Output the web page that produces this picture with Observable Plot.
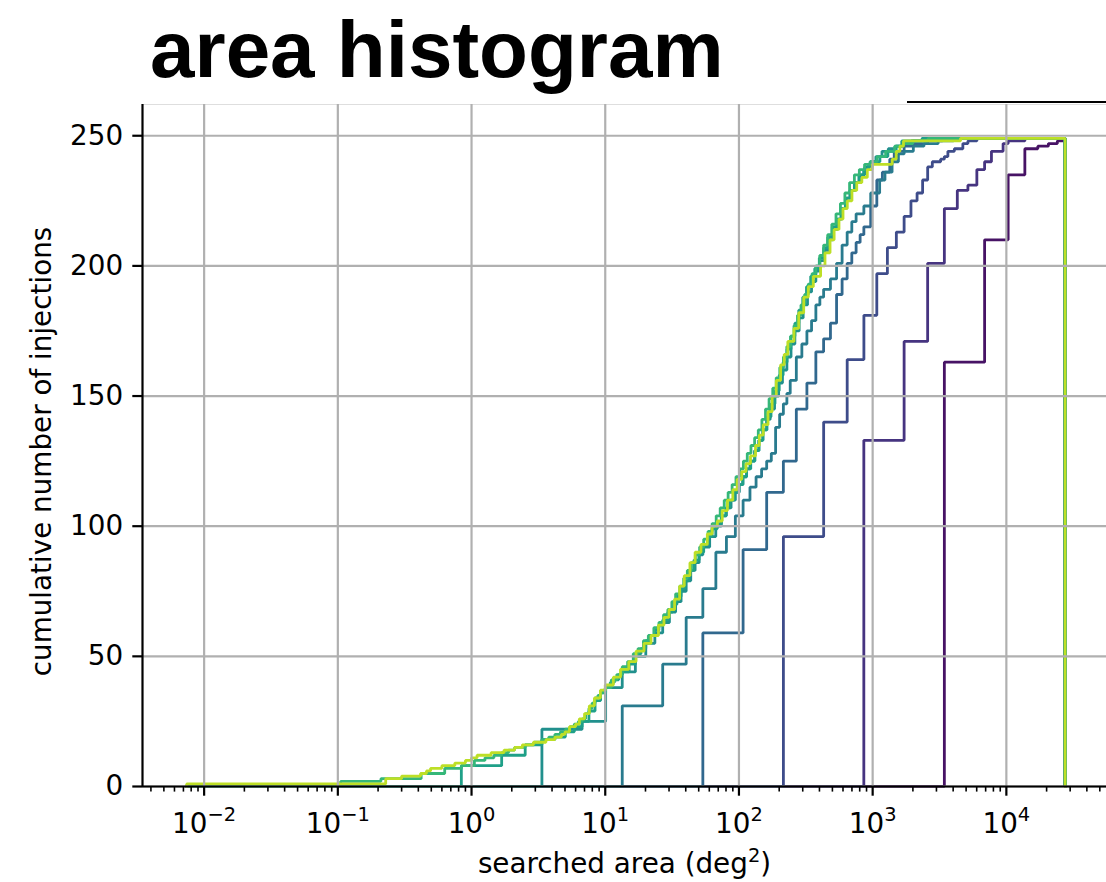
<!DOCTYPE html>
<html>
<head>
<meta charset="utf-8">
<script src="https://cdn.jsdelivr.net/npm/d3@7"></script>
<script src="https://cdn.jsdelivr.net/npm/@observablehq/plot@0.6"></script>
<style>
  body { margin: 0; background: #fff; }
  #fig { position: relative; width: 1106px; height: 882px; overflow: hidden; background: #fff; }
  #title { position: absolute; left: 150px; top: 10px; font: bold 80px "Liberation Sans", Arial, sans-serif; line-height: 1; color: #000; white-space: nowrap; }
  #chart { position: absolute; left: 0; top: 100px; }
  #legend-edge { position: absolute; left: 907px; top: 101px; width: 199px; height: 2px; background: #000; }
</style>
</head>
<body>
<div id="fig">
  <div id="title">area histogram</div>
  <div id="chart"></div>
  <div id="legend-edge"></div>
</div>
<script>
// Cumulative searched-area counts: [area (deg²), cumulative number of injections]
// one list per HEALPix resolution, plus the multi-order result.
const nside1 = [[3438,163],[6876,210],[10313,235],[13751,245],[17189,246],[20627,247],[24064,248],[27502,249]];
const nside2 = [[859,133],[1719,171],[2578,201],[3438,222],[4297,229],[5157,231],[6016,237],[6875,240],[7735,244],[9453,247],[10313,248],[13751,249]];
const nside4 = [[215,96],[430,140],[645,164],[860,181],[1074,197],[1289,207],[1504,213],[1719,219],[1934,225],[2149,228],[2364,233],[2579,238],[2794,240],[3224,241],[3438,242],[3653,244],[4083,245],[4728,247],[5158,248],[6017,249]];
const nside8 = [[53.7,59],[107.4,91],[161.2,113],[214.9,125],[268.6,145],[322.3,155],[376.0,167],[429.7,172],[483.5,178],[537.2,189],[590.9,195],[644.6,201],[698.4,205],[752.1,209],[805.8,212],[859.4,215],[966.9,223],[1074.4,233],[1181.8,236],[1342.9,241],[1450.4,244],[1719,246],[2041,247],[2579,248],[3330,249]];
const nside16 = [[13.4,31],[26.9,47],[40.3,65],[53.7,76],[67.2,90],[80.6,96],[94.0,104],[107.4,110],[120.9,115],[134.3,119],[147.7,122],[161.2,125],[174.6,128],[188.0,138],[201.5,143],[214.9,147],[228.3,151],[241.8,156],[268.6,165],[295.5,170],[322.3,175],[349.2,179],[376.1,185],[402.9,188],[429.8,191],[483.5,195],[537.2,201],[590.9,208],[644.7,213],[698.4,217],[752.1,220],[859.5,223],[967.0,228],[1128,233],[1236,236],[1397,240],[1558,243],[1719,244],[2015,246],[2418,247],[3089,248],[4029,249]];
const nside32 = [[3.36,22],[6.71,25],[10.07,38],[13.4,44],[16.8,50],[20.1,55],[23.5,59],[26.9,63],[30.2,67],[33.6,71],[36.9,75],[40.3,79],[43.6,83],[47.0,86],[50.4,89],[53.7,92],[60.4,96],[67.1,100],[73.9,104],[80.6,107],[87.3,110],[94.0,113],[100.7,116],[107.4,119],[114.1,122],[120.9,125],[130.9,129],[141.0,133],[151.1,137],[161.1,141],[171.2,145],[184.6,150],[198.1,155],[211.5,160],[228.3,165],[245.1,170],[261.9,175],[282.0,180],[302.1,185],[325.6,190],[349.1,194],[376.0,198],[402.9,202],[436.4,206],[470.0,210],[506.9,214],[547.2,218],[590.8,222],[638.0,226],[688.2,229],[745.3,232],[805.7,235],[872.8,238],[956.7,240],[1057.4,242],[1175,244],[1309,245],[1477,246],[1678,247],[1947,248],[2350,249]];
const nside64 = [[0.839,8],[1.68,12],[2.52,16],[3.36,18],[4.20,19],[5.03,21],[5.87,23],[6.71,25],[7.55,29],[8.39,33],[9.23,36],[10.07,38],[10.9,40],[11.7,41],[12.6,43],[13.4,44],[15.1,47],[16.8,51],[18.5,53],[20.1,56],[21.8,58],[23.5,60],[25.2,62],[26.9,64],[29.4,67],[31.9,70],[34.4,73],[36.9,76],[39.4,79],[42.0,83],[46.1,87],[50.3,90],[54.5,93],[58.7,96],[62.9,99],[68.8,101],[73.8,104],[79.7,107],[85.6,110],[92.3,113],[99.0,116],[106.5,119],[114.0,122],[122.5,125],[131.7,129],[141.0,133],[151.0,137],[162.0,142],[173.7,147],[186.0,152],[200.0,158],[214.0,163],[229.0,168],[245.0,173],[262.0,178],[280.0,183],[300.0,188],[320.0,192],[344.0,196],[369.0,199],[399.0,203],[430.0,207],[461.0,211],[499.0,215],[537.0,218],[579.0,222],[625.0,226],[675.0,229],[730.0,232],[789.0,235],[856.0,237],[931.0,239],[1007,240],[1133,242],[1300,244],[1500,246],[1650,248],[2349,249]];
const nside128 = [[0.105,2],[0.21,3],[0.42,5],[0.63,7],[0.84,8],[1.05,10],[1.26,11],[1.47,12],[1.68,13],[1.89,14],[2.10,15],[2.52,16],[2.94,17],[3.36,18],[3.78,19],[4.20,20],[4.62,21],[5.04,22],[5.45,23],[5.87,24],[6.29,25],[6.71,26],[7.13,28],[7.55,30],[7.97,32],[8.39,34],[8.81,35],[9.23,36],[9.65,37],[10.07,38],[11.1,41],[12.2,43],[13.4,46],[14.7,48],[16.2,51],[17.6,53],[19.3,56],[21.0,58],[23.1,61],[25.2,63],[27.3,66],[29.4,68],[31.5,71],[33.6,74],[36.1,77],[38.6,80],[41.1,83],[44.1,86],[47.2,89],[50.8,92],[54.5,95],[58.7,98],[63.0,101],[67.6,104],[72.4,107],[77.6,110],[83.0,113],[88.9,116],[95.0,119],[101.5,122],[108.0,125],[115.4,128],[123.0,131],[131.0,134],[139.5,137],[148.5,141],[158.0,145],[168.0,149],[179.0,153],[190.0,157],[202.0,161],[215.0,165],[228.0,169],[243.0,173],[258.0,177],[274.0,181],[291.0,185],[310.0,189],[330.0,193],[352.0,197],[376.0,200],[402.0,204],[430.0,208],[461.0,212],[495.0,216],[532.0,220],[574.0,224],[620.0,228],[672.0,232],[730.0,235],[795.0,237],[870.0,239],[960.0,240],[1080,242],[1250,244],[1460,246],[1700,247],[2000,248],[2600,249]];
const multiorder = [[0.0074,1],[0.228,3],[0.30,4],[0.416,5],[0.46,6],[0.494,7],[0.60,8],[0.75,9],[0.90,10],[1.0,11],[1.1,12],[1.4,13],[1.75,14],[2.1,15],[2.4,16],[2.9,17],[3.6,18],[4.2,19],[4.7,20],[5.0,21],[5.4,23],[6.0,24],[6.4,26],[7.0,28],[7.6,31],[8.3,34],[9.2,37],[10,39],[11.5,42],[13,45],[15,48],[17,52],[19.5,55],[22,58],[25,62],[27.5,65],[30,68],[33,72],[36,77],[39,81],[43,86],[47,90],[52,93],[58,97],[63,100],[69,102],[75,106],[82,110],[90,114],[97,118],[105,121],[113,124],[122,127],[133,131],[142,135],[152,139],[165,144],[177,150],[190,156],[205,162],[218,166],[232,171],[258,176],[280,182],[305,188],[330,192],[360,196],[408,200],[440,205],[480,210],[515,214],[560,218],[600,222],[646,225],[700,229],[760,232],[830,234],[912,237],[993,239],[1400,241],[1500,244],[1600,246],[1700,248],[4540,249]];

const seriesNames = ["nside 1", "nside 2", "nside 4", "nside 8", "nside 16", "nside 32", "nside 64", "nside 128", "multi-order"];
const seriesSteps = [nside1, nside2, nside4, nside8, nside16, nside32, nside64, nside128, multiorder];
const palette = ["#471365", "#463480", "#3e4c8a", "#31688e", "#297b8e", "#21908d", "#1fa088", "#35b779", "#bddf26"];

const majorTicks = [1e-2, 1e-1, 1e0, 1e1, 1e2, 1e3, 1e4];
const majorLabels = ["10^{−2}", "10^{−1}", "10^{0}", "10^{1}", "10^{2}", "10^{3}", "10^{4}"];
const yTicks = [0, 50, 100, 150, 200, 250];

const X_DOMAIN = [3.46e-3, 5.61e4];
const Y_DOMAIN = [0, 262];

// Histogram edges shared by every series: from the smallest to the largest area.
const AREA_MIN = d3.min(seriesSteps, s => s[0][0]);
const AREA_MAX = d3.max(seriesSteps, s => s[s.length - 1][0]);

// Step outline of each cumulative histogram: flat at zero from the first edge,
// rising at each recorded area, dropping back to zero at the last edge.
const rows = seriesNames.flatMap((name, i) => [
  {series: name, area: AREA_MIN, count: 0},
  ...seriesSteps[i].map(([area, count]) => ({series: name, area, count})),
  {series: name, area: AREA_MAX, count: 0}
]);

const minorTicks = [];
for (let e = -3; e <= 4; e++) for (let m = 2; m <= 9; m++) {
  const v = m * Math.pow(10, e);
  if (v >= X_DOMAIN[0] && v <= X_DOMAIN[1]) minorTicks.push(v);
}

const FONT = 27.8;
const chart = Plot.plot({
  width: 1106,
  height: 782,
  marginLeft: 142,
  marginRight: 0,
  marginTop: 4,
  marginBottom: 96,
  style: {fontFamily: "'DejaVu Sans', sans-serif", fontSize: FONT + "px", color: "#000", background: "transparent", overflow: "visible"},
  x: {type: "log", domain: X_DOMAIN},
  y: {domain: Y_DOMAIN},
  color: {domain: seriesNames, range: palette},
  marks: [
    Plot.ruleY([Y_DOMAIN[1]], {stroke: "#dedede", strokeWidth: 1.2}),
    Plot.line(rows, {x: "area", y: "count", z: "series", stroke: "series", curve: "step-after", strokeWidth: 2.8, strokeLinejoin: "miter"}),
    Plot.gridX(majorTicks, {stroke: "#b0b0b0", strokeOpacity: 1, strokeWidth: 2.2}),
    Plot.gridY(yTicks, {stroke: "#b0b0b0", strokeOpacity: 1, strokeWidth: 2.2}),
    Plot.axisX(minorTicks, {tickSize: 5.6, strokeWidth: 1.6, tickFormat: () => "", label: null}),
    Plot.axisX(majorTicks, {tickSize: 9.7, tickPadding: 17, strokeWidth: 2.2, fontSize: FONT, tickFormat: d => majorLabels[majorTicks.indexOf(d)], label: null}),
    Plot.axisY(yTicks, {tickSize: 9.7, tickPadding: 9.7, strokeWidth: 2.2, fontSize: FONT, label: null}),
    Plot.ruleX([X_DOMAIN[0]], {stroke: "#000", strokeWidth: 2.2}),
    Plot.ruleY([0], {stroke: "#000", strokeWidth: 2.2}),
    Plot.text(["searched area (deg^{2})"], {frameAnchor: "bottom", textAnchor: "middle", lineAnchor: "middle", dy: 78, fontSize: FONT, fill: "#000"}),
    Plot.text(["cumulative number of injections"], {frameAnchor: "left", textAnchor: "middle", lineAnchor: "middle", rotate: -90, dx: -100, dy: 6, fontSize: FONT, fill: "#000"})
  ]
});
document.getElementById("chart").appendChild(chart);

// Render "^{...}" runs as raised, smaller tspans.
d3.select(chart).selectAll("text").each(function() {
  const s = this.textContent;
  if (!s.includes("^{")) return;
  const parts = s.split(/\^\{([^}]*)\}/);
  const fs = parseFloat(getComputedStyle(this).fontSize) || FONT;
  const rise = 0.42 * fs;
  const el = d3.select(this).text(null);
  let raised = false;
  parts.forEach((p, i) => {
    if (!p) return;
    const ts = el.append("tspan").text(p);
    if (i % 2 === 1) { ts.attr("font-size", 0.7 * fs).attr("dy", -rise); raised = true; }
    else if (raised) { ts.attr("dy", rise); raised = false; }
  });
});
</script>
</body>
</html>
